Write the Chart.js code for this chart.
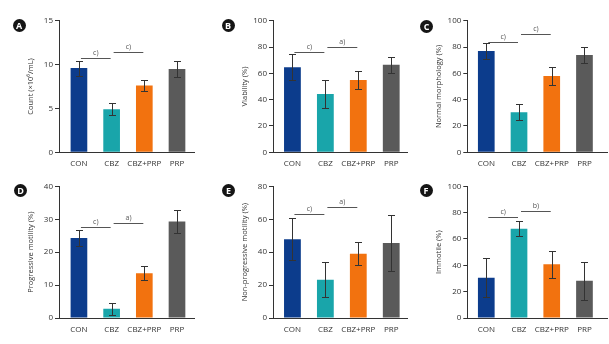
<!DOCTYPE html>
<html>
<head>
<meta charset="utf-8">
<script src="https://cdn.jsdelivr.net/npm/chart.js@4"></script>
<style>
  body { margin: 0; background: #fff; width: 609px; height: 344px; position: relative; overflow: hidden; }
  canvas { position: absolute; }
  .badge { position: absolute; width: 13px; height: 13px; border-radius: 50%; background: #151515; color: #fff;
           font: bold 9px 'Open Sans', sans-serif; text-align: center; line-height: 13px; }
</style>
</head>
<body>
<canvas id="chartA" width="203" height="172" style="left:0;top:0"></canvas>
<canvas id="chartB" width="206" height="172" style="left:203px;top:0"></canvas>
<canvas id="chartC" width="203" height="172" style="left:406px;top:0"></canvas>
<canvas id="chartD" width="203" height="172" style="left:0;top:172px"></canvas>
<canvas id="chartE" width="206" height="172" style="left:203px;top:172px"></canvas>
<canvas id="chartF" width="203" height="172" style="left:406px;top:172px"></canvas>
<div class="badge" style="left:12.5px;top:19px">A</div>
<div class="badge" style="left:221.5px;top:19px">B</div>
<div class="badge" style="left:420px;top:19.5px">C</div>
<div class="badge" style="left:14px;top:184px">D</div>
<div class="badge" style="left:222px;top:184px">E</div>
<div class="badge" style="left:419.5px;top:184px">F</div>
<script>
        // Groups and colours
        const groups = ['CON', 'CBZ', 'CBZ+PRP', 'PRP'];
        const groupColors = ['#0c3c8c', '#19a5aa', '#f2720f', '#5a5a5a'];

        // Mean, SD and significance brackets [from, to, y, label] per panel
        const countMean = [9.6, 4.9, 7.6, 9.5];
        const countSd = [0.85, 0.7, 0.6, 0.9];
        const countSig = [[0, 1, 10.7, 'c)'], [1, 2, 11.4, 'c)']];

        const viabilityMean = [64.6, 44.3, 55, 66.5];
        const viabilitySd = [10, 10.4, 6.6, 6.2];
        const viabilitySig = [[0, 1, 76, 'c)'], [1, 2, 80, 'a)']];

        const morphologyMean = [77, 30.5, 58, 73.9];
        const morphologySd = [6, 6.3, 6.5, 6];
        const morphologySig = [[0, 1, 84.1, 'c)'], [1, 2, 89.7, 'c)']];

        const progressiveMean = [24.3, 2.8, 13.6, 29.3];
        const progressiveSd = [2.4, 1.8, 2.2, 3.5];
        const progressiveSig = [[0, 1, 27.6, 'c)'], [1, 2, 28.9, 'a)']];

        const nonProgressiveMean = [47.8, 23.3, 39.1, 45.6];
        const nonProgressiveSd = [12.7, 10.5, 6.8, 17.2];
        const nonProgressiveSig = [[0, 1, 63, 'c)'], [1, 2, 67.4, 'a)']];

        const immotileMean = [30.5, 67.8, 40.8, 28.3];
        const immotileSd = [14.7, 5.8, 10.3, 14.6];
        const immotileSig = [[0, 1, 76.7, 'c)'], [1, 2, 81, 'b)']];

        // Error bars and significance brackets
        const errorBarPlugin = {
            id: 'errorBars',
            afterDatasetsDraw(chart, args, opts) {
                const ctx = chart.ctx;
                const yScale = chart.scales.y;
                const xScale = chart.scales.x;
                const meta = chart.getDatasetMeta(0);
                ctx.save();
                ctx.strokeStyle = '#333';
                ctx.lineWidth = 1;
                meta.data.forEach((bar, i) => {
                    const x = Math.round(bar.x) + 0.5;
                    const yTop = Math.round(yScale.getPixelForValue(opts.mean[i] + opts.sd[i])) + 0.5;
                    const yBot = Math.round(yScale.getPixelForValue(opts.mean[i] - opts.sd[i])) + 0.5;
                    ctx.beginPath();
                    ctx.moveTo(x, yTop); ctx.lineTo(x, yBot);
                    ctx.moveTo(x - 3.5, yTop); ctx.lineTo(x + 3.5, yTop);
                    ctx.moveTo(x - 3.5, yBot); ctx.lineTo(x + 3.5, yBot);
                    ctx.stroke();
                });

                ctx.strokeStyle = '#555';
                ctx.fillStyle = '#555';
                ctx.font = '7px "Open Sans", sans-serif';
                ctx.textAlign = 'center';
                ctx.textBaseline = 'middle';
                opts.sig.forEach(([from, to, value, label]) => {
                    const x1 = xScale.getPixelForValue(from) + 2;
                    const x2 = xScale.getPixelForValue(to) - 1;
                    const y = Math.round(yScale.getPixelForValue(value)) + 0.5;
                    ctx.beginPath();
                    ctx.moveTo(x1, y); ctx.lineTo(x2, y);
                    ctx.stroke();
                    ctx.fillText(label, (x1 + x2) / 2, y - 6);
                });
                ctx.restore();
            }
        };

        function makePanel(p) {
            const ctx = document.getElementById(p.id).getContext('2d');
            new Chart(ctx, {
                type: 'bar',
                data: {
                    datasets: [{
                        data: p.mean.map((v, i) => ({ x: i, y: v })),
                        backgroundColor: groupColors,
                        borderWidth: 0,
                        barPercentage: 0.51,
                        categoryPercentage: 1
                    }]
                },
                options: {
                    responsive: false,
                    animation: false,
                    layout: {
                        padding: { top: p.padTop, right: p.padRight, left: 0, bottom: 0 }
                    },
                    plugins: {
                        legend: { display: false },
                        tooltip: { enabled: false },
                        errorBars: { mean: p.mean, sd: p.sd, sig: p.sig }
                    },
                    scales: {
                        x: {
                            type: 'linear',
                            offset: false,
                            min: p.xMin,
                            max: p.xMax,
                            afterBuildTicks: (s) => { s.ticks = groups.map((g, i) => ({ value: i })); },
                            afterFit: (s) => { s.height = p.xHeight; },
                            grid: { display: true, drawOnChartArea: false, drawTicks: false },
                            border: { color: '#333', width: 1 },
                            ticks: {
                                autoSkip: false,
                                maxRotation: 0,
                                padding: 7,
                                color: '#333',
                                font: { family: 'Open Sans', size: 8 },
                                callback: (v) => groups[v]
                            }
                        },
                        y: {
                            min: 0,
                            max: p.yMax,
                            afterFit: (s) => { s.width = p.axisLeft; },
                            grid: { drawOnChartArea: false, drawTicks: true, tickLength: 4, color: '#333' },
                            border: { color: '#333', width: 1 },
                            ticks: {
                                stepSize: p.yStep,
                                padding: 2,
                                color: '#333',
                                font: { family: 'Open Sans', size: 8 }
                            },
                            title: {
                                display: true,
                                text: p.title,
                                color: '#333',
                                font: { family: 'Open Sans', size: 7.5 },
                                padding: { top: p.axisLeft - 28.5 - 4.5, bottom: 0 }
                            }
                        }
                    }
                },
                plugins: [errorBarPlugin]
            });
        }

        makePanel({ id: 'chartA', title: 'Count (×10⁶/mL)', mean: countMean, sd: countSd, sig: countSig,
            yMax: 15, yStep: 5, axisLeft: 59, padTop: 20.7, padRight: 9, xHeight: 19.7, xMin: -0.61, xMax: 3.52 });
        makePanel({ id: 'chartB', title: 'Viability (%)', mean: viabilityMean, sd: viabilitySd, sig: viabilitySig,
            yMax: 100, yStep: 20, axisLeft: 70, padTop: 20.7, padRight: 1.3, xHeight: 19.7, xMin: -0.59, xMax: 3.5 });
        makePanel({ id: 'chartC', title: 'Normal morphology (%)', mean: morphologyMean, sd: morphologySd, sig: morphologySig,
            yMax: 100, yStep: 20, axisLeft: 61.3, padTop: 20.7, padRight: 1.3, xHeight: 19.7, xMin: -0.58, xMax: 3.71 });
        makePanel({ id: 'chartD', title: 'Progressive motility (%)', mean: progressiveMean, sd: progressiveSd, sig: progressiveSig,
            yMax: 40, yStep: 10, axisLeft: 59, padTop: 14.3, padRight: 9, xHeight: 26, xMin: -0.61, xMax: 3.52 });
        makePanel({ id: 'chartE', title: 'Non-progressive motility (%)', mean: nonProgressiveMean, sd: nonProgressiveSd, sig: nonProgressiveSig,
            yMax: 80, yStep: 20, axisLeft: 70, padTop: 14.3, padRight: 1.3, xHeight: 26, xMin: -0.59, xMax: 3.5 });
        makePanel({ id: 'chartF', title: 'Immotile (%)', mean: immotileMean, sd: immotileSd, sig: immotileSig,
            yMax: 100, yStep: 20, axisLeft: 61.3, padTop: 14.3, padRight: 1.3, xHeight: 26, xMin: -0.58, xMax: 3.71 });
</script>
</body>
</html>
